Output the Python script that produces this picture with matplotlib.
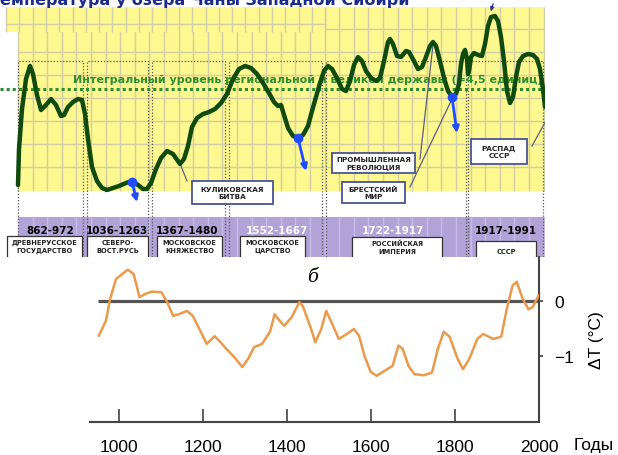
import matplotlib
matplotlib.use("Agg")
import numpy as np
import matplotlib.pyplot as plt
from matplotlib.patches import Rectangle

W, H = 618, 456

# ---- upper schematic (panel pixel units: x to the right, y downwards) ----
curve_x = [18, 19, 22, 26, 30, 33, 37, 41, 46, 51, 56, 61, 64, 68, 73, 78, 82, 85, 88, 92,
           97, 102, 107, 113, 119, 126, 132, 138, 143, 147, 151, 156, 161, 167, 173, 180, 184,
           188, 192, 197, 203, 209, 215, 221, 227, 233, 239, 245, 251, 257, 263, 269, 274, 278,
           281, 284, 288, 293, 298, 303, 308, 312, 316, 320, 324, 328, 332, 337, 342, 346, 350,
           354, 358, 362, 366, 371, 376, 380, 384, 388, 390, 393, 397, 401, 406, 409, 414, 418,
           422, 426, 430, 433, 436, 440, 444, 448, 452, 456, 459, 461, 463, 465, 467, 468, 469,
           471, 474, 478, 482, 485, 488, 491, 495, 498, 501, 504, 507, 510, 513, 516, 519, 523,
           528, 533, 537, 540, 543, 545]
curve_y = [186, 150, 110, 80, 67, 75, 96, 111, 106, 100, 106, 117, 116, 108, 103, 100, 101, 115,
           140, 168, 182, 189, 191, 189, 187, 184, 182, 186, 190, 190, 184, 170, 159, 152, 155,
           165, 160, 147, 128, 119, 115, 113, 110, 104, 95, 80, 70, 67, 69, 75, 84, 94, 103, 107,
           106, 116, 129, 137, 139, 136, 127, 112, 98, 84, 72, 67, 70, 79, 90, 92, 82, 66, 58, 62,
           72, 79, 82, 79, 62, 43, 40, 45, 57, 58, 52, 53, 62, 70, 68, 58, 47, 43, 47, 62, 79, 92,
           98, 95, 85, 65, 55, 51, 60, 75, 72, 58, 54, 56, 57, 45, 27, 18, 17, 22, 38, 62, 92, 104,
           98, 78, 63, 57, 55, 56, 60, 70, 90, 108]

dot_x = [132, 298, 452]
dot_y = [183, 139, 98]
tip_x = [137, 306, 457]
tip_y = [203, 172, 134]

level_y = 90
level_text = "Интегральный уровень региональной и великой державы (=4,5 единиц)"

frame_left = [18, 87, 152, 229, 326, 468]
frame_right = [83, 148, 225, 322, 466, 543]

period_years = ["862-972", "1036-1263", "1367-1480", "1552-1667", "1722-1917", "1917-1991"]
period_x = [50, 117, 187, 277, 393, 506]
period_white = [False, False, False, True, True, False]

state_names = ["ДРЕВНЕРУССКОЕ\nГОСУДАРСТВО", "СЕВЕРО-\nВОСТ.РУСЬ", "МОСКОВСКОЕ\nКНЯЖЕСТВО",
               "МОСКОВСКОЕ\nЦАРСТВО", "РОССИЙСКАЯ\nИМПЕРИЯ", "СССР"]
state_x0 = [7, 87, 157, 240, 352, 476]
state_x1 = [82, 148, 222, 305, 442, 536]
state_y0 = [237, 237, 237, 237, 238, 242]

event_names = ["КУЛИКОВСКАЯ\nБИТВА", "ПРОМЫШЛЕННАЯ\nРЕВОЛЮЦИЯ", "БРЕСТСКИЙ\nМИР", "РАСПАД\nСССР"]
event_x0 = [192, 332, 342, 471]
event_x1 = [273, 415, 405, 527]
event_y0 = [182, 154, 183, 140]
event_y1 = [205, 174, 204, 165]
lead_x0 = [187, 420, 410, 532]
lead_y0 = [182, 160, 188, 147]
lead_x1 = [181, 433, 452, 548]
lead_y1 = [167, 46, 100, 118]

# ---- lower chart: temperature anomaly ----
years = [951, 968, 978, 992, 1020, 1034, 1048, 1062, 1077, 1100, 1114, 1128, 1142, 1161, 1175,
         1194, 1208, 1227, 1241, 1255, 1274, 1293, 1307, 1321, 1340, 1359, 1370, 1382, 1393,
         1411, 1429, 1437, 1457, 1467, 1481, 1493, 1509, 1523, 1542, 1559, 1571, 1585, 1599,
         1613, 1632, 1651, 1665, 1675, 1689, 1703, 1726, 1745, 1759, 1773, 1787, 1806, 1819,
         1834, 1853, 1867, 1891, 1910, 1923, 1937, 1947, 1961, 1975, 1985, 1999]
dT = [-0.63, -0.36, 0.04, 0.40, 0.57, 0.49, 0.07, 0.13, 0.17, 0.16, -0.02, -0.27, -0.24, -0.18,
      -0.27, -0.56, -0.78, -0.64, -0.75, -0.87, -1.02, -1.20, -1.05, -0.84, -0.78, -0.56, -0.24,
      -0.36, -0.45, -0.29, -0.02, -0.09, -0.51, -0.75, -0.51, -0.18, -0.45, -0.69, -0.60, -0.51,
      -0.63, -1.02, -1.29, -1.36, -1.27, -1.18, -0.81, -0.87, -1.18, -1.33, -1.35, -1.30, -0.87,
      -0.56, -0.65, -1.05, -1.24, -1.05, -0.69, -0.60, -0.69, -0.65, -0.15, 0.28, 0.35, 0.04,
      -0.15, -0.11, 0.10]
year_ticks = [1000, 1200, 1400, 1600, 1800, 2000]

yellow = "#fdf88f"
gridc = "#d2cfa8"
purple = "#b1a2d8"
narrow = ["Liberation Sans", "DejaVu Sans"]

fig = plt.figure(figsize=(W / 100, H / 100), dpi=100)

# ================= top schematic =================
ax = fig.add_axes([0, 1 - 258 / H, 545 / W, 258 / H])
ax.set_xlim(0, 545)
ax.set_ylim(258, 0)
ax.axis("off")

# yellow panel with grid
ax.add_patch(Rectangle((18, 8), 527, 184, facecolor=yellow, edgecolor="none", zorder=0))
gx = np.arange(18, 546, 14.6)
ax.vlines(gx, 8, 192, color=gridc, lw=1, zorder=0.5)
ax.hlines([30, 53, 76, 99, 122, 145, 168], 18, 545, color=gridc, lw=1, zorder=0.5)
ax.add_patch(Rectangle((6, 8), 320, 25, facecolor=yellow, edgecolor="none", zorder=0.6))
ax.vlines(np.arange(6, 326, 13.3), 8, 33, color=gridc, lw=1, zorder=0.7)
ax.hlines([25], 6, 326, color=gridc, lw=1, zorder=0.7)

# purple band
ax.add_patch(Rectangle((18, 218), 527, 45, facecolor=purple, edgecolor="none", zorder=0))
ax.vlines(gx, 218, 258, color="#c8bde8", lw=1, zorder=0.5)

# dotted period frames
for x0, x1 in zip(frame_left, frame_right):
    ax.plot([x0, x0, x1, x1], [258, 62, 62, 258], ls=(0, (1, 1.5)), color="#555555",
            lw=0.9, zorder=1)

# level line and its caption
ax.hlines(level_y, 0, 545, color="#2e8b2e", lw=2.2, linestyles=(0, (1, 1)), zorder=2)
ax.text(73, 80, level_text, color="#2f8f2f", fontsize=8, fontweight="bold",
        va="center", ha="left", zorder=2, clip_on=True)

# leader lines
for a, b, c, d in zip(lead_x0, lead_y0, lead_x1, lead_y1):
    ax.plot([a, c], [b, d], color="#5b6080", lw=0.9, zorder=3)
ax.annotate("", xy=(490, 15), xytext=(494, 2),
            arrowprops=dict(arrowstyle="-|>", color="#2a3590", lw=0.9, mutation_scale=6))

# green curve
ax.plot(curve_x, curve_y, color="#0f4a0f", lw=3.2, solid_joinstyle="round",
        solid_capstyle="round", zorder=4)

# blue arrows
for x0, y0, x1, y1 in zip(dot_x, dot_y, tip_x, tip_y):
    ax.annotate("", xy=(x1, y1), xytext=(x0, y0),
                arrowprops=dict(arrowstyle="-|>", color="#1f4cff", lw=2.0,
                                mutation_scale=9, shrinkA=0, shrinkB=0), zorder=5)
ax.plot(dot_x, dot_y, "o", color="#1f4cff", ms=6, zorder=6)

# event boxes
for name, x0, x1, y0, y1 in zip(event_names, event_x0, event_x1, event_y0, event_y1):
    ax.add_patch(Rectangle((x0, y0), x1 - x0, y1 - y0, facecolor="white",
                           edgecolor="#4a5590", lw=1.3, zorder=7))
    ax.text((x0 + x1) / 2, (y0 + y1) / 2, name, ha="center", va="center", fontsize=5.2,
            fontweight="bold", color="#222222", linespacing=1.3, zorder=8)

# period years and state boxes
for lab, x, wh in zip(period_years, period_x, period_white):
    ax.text(x, 231, lab, ha="center", va="center", fontsize=7.5, fontweight="bold",
            color="white" if wh else "black", zorder=3)
for name, x0, x1, y0 in zip(state_names, state_x0, state_x1, state_y0):
    ax.add_patch(Rectangle((x0, y0), x1 - x0, 30, facecolor="white",
                           edgecolor="#333333", lw=0.9, zorder=7))
    ax.text((x0 + x1) / 2, y0 + 10, name, ha="center", va="center", fontsize=4.8,
            fontweight="bold", color="#222222", linespacing=1.3, zorder=8)

# title (cut by the top edge, as in the source picture)
ax.text(-11, 5, "Температура у озера Чаны Западной Сибири", ha="left", va="baseline",
        fontsize=11.5, fontweight="bold", color="#1c2a8c", clip_on=False)

# ================= bottom chart =================
bx = fig.add_axes([90 / W, 1 - 423 / H, 449 / W, 165 / H])
bx.patch.set_alpha(0)
bx.set_xlim(930, 2000)
bx.set_ylim(-2.2, 0.8)
for s in ["left", "top"]:
    bx.spines[s].set_visible(False)
for s in ["bottom", "right"]:
    bx.spines[s].set_color("#444444")
    bx.spines[s].set_linewidth(1.5)

bx.hlines(0, 949, 2000, color="#555555", lw=2.3, zorder=2)
bx.plot(years, dT, color="#eb9a4c", lw=1.8, zorder=3)
bx.text(1461, 0.45, "б", fontsize=13, style="italic", ha="center", va="center",
        family=["DejaVu Serif"])

bx.set_xticks(year_ticks)
bx.set_xticklabels([str(y) for y in year_ticks], family=narrow, fontsize=12.5)
bx.tick_params(axis="x", direction="in", length=9.5, width=1.1, color="#333333", pad=12)
bx.yaxis.tick_right()
bx.set_yticks([-1, 0])
bx.set_yticklabels(["\u22121", "0"], family=narrow, fontsize=12.5)
bx.tick_params(axis="y", direction="out", length=3, width=1.1, color="#333333", pad=8)
bx.yaxis.set_label_position("right")
bx.set_ylabel("ΔT (°C)", family=narrow, fontsize=12.5, labelpad=11)
fig.text(594 / W, 1 - 446 / H, "Годы", ha="center", va="center", family=narrow,
         fontsize=12.5)

fig.savefig("out.png", dpi=100)
